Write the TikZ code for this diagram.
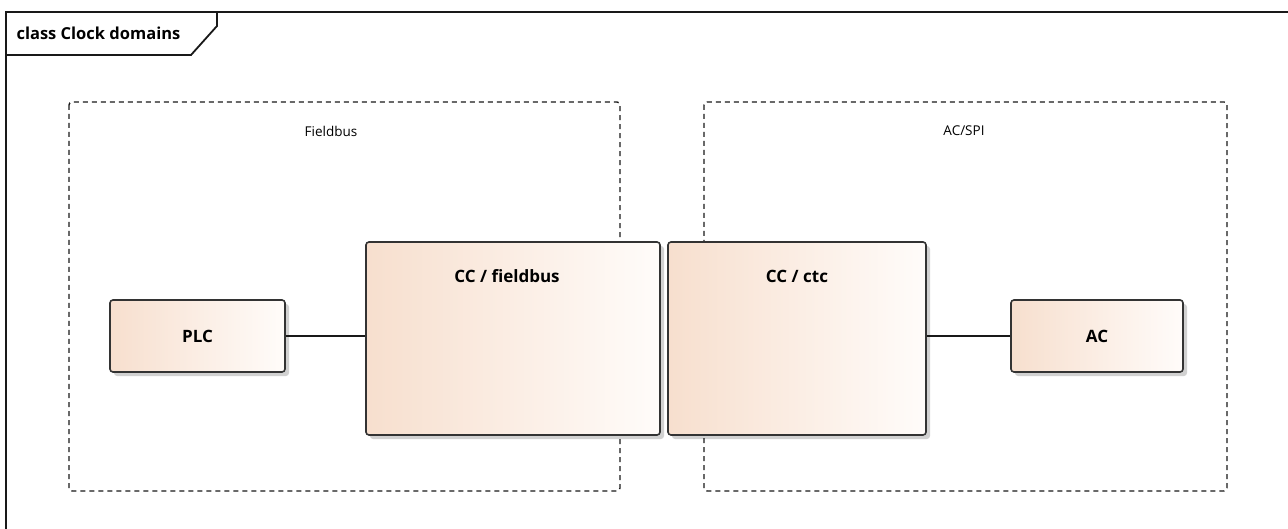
\documentclass[tikz,border=0pt]{standalone}
\usepackage{fontspec}
\setmainfont{Open Sans}
\usetikzlibrary{shadows}
\definecolor{boxleft}{HTML}{F7DFCE}
\definecolor{boxright}{HTML}{FFFCFA}
\definecolor{edge}{HTML}{333333}
\tikzset{
  block/.style={draw=edge, line width=1.6pt, rounded corners=3pt,
    left color=boxleft, right color=boxright,
    drop shadow={shadow xshift=4pt, shadow yshift=-4pt, fill=black, opacity=0.18},
    inner sep=0pt},
  title/.style={font=\fontsize{17}{19}\selectfont\bfseries, text=black},
  clockdomain/.style={draw=black!90, line width=1.4pt, dash pattern=on 5pt off 4pt, rounded corners=3pt},
  domainlabel/.style={font=\fontsize{13.5}{15}\selectfont, text=black},
  link/.style={draw=black!90, line width=1.4pt}
}
\begin{document}
\begin{tikzpicture}[x=1pt, y=-1pt]
\useasboundingbox (0,0) rectangle (1288,529);
\fill[white] (0,0) rectangle (1288,529);

% diagram frame with its name tab
\draw[line width=1.8pt, black!90] (6,529) -- (6,12) -- (1288,12);
\draw[line width=1.8pt, black!90] (217,12) -- (217,26) -- (191,55) -- (6,55);
\node[font=\fontsize{16.5}{18}\selectfont\bfseries, anchor=west] (frametitle) at (13,33) {class Clock domains};

% clock domains
\draw[clockdomain] (69,102) rectangle (620,491);
\draw[clockdomain] (704,102) rectangle (1227,491);
\node[domainlabel] (fieldbuslbl) at (331,131) {Fieldbus};
\node[domainlabel] (acspilbl) at (964,131) {AC/SPI};

% components
\node[block, minimum width=175pt, minimum height=72pt] (plc) at (197.5,336) {};
\node[block, minimum width=294pt, minimum height=193pt] (ccfb) at (513,338.5) {};
\node[block, minimum width=258pt, minimum height=193pt] (ccctc) at (797,338.5) {};
\node[block, minimum width=172pt, minimum height=72pt] (ac) at (1097,336) {};

\node[title] (plctxt) at (plc.center) {PLC};
\node[title] (ccfbtxt) at (507,276) {CC / fieldbus};
\node[title] (ccctctxt) at (797,276) {CC / ctc};
\node[title] (actxt) at (ac.center) {AC};

% connectors
\draw[link] (plc.east) -- (plc.east -| ccfb.west);
\draw[link] (ccctc.east |- ac.west) -- (ac.west);
\end{tikzpicture}
\end{document}
